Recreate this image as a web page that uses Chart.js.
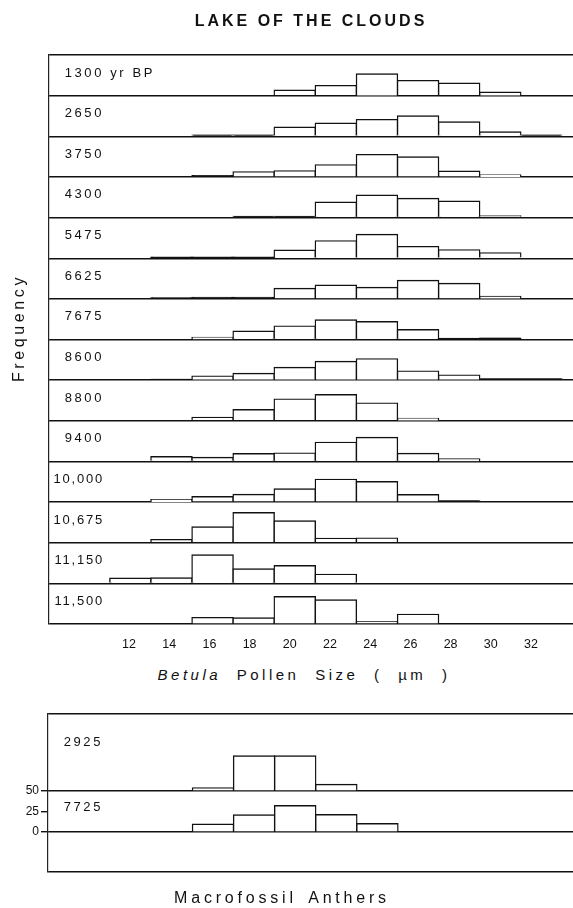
<!DOCTYPE html>
<html>
<head>
<meta charset="utf-8">
<script src="https://cdn.jsdelivr.net/npm/chart.js@4.4.0/dist/chart.umd.min.js"></script>
<style>
  body { margin: 0; background: #fff; width: 573px; height: 908px; position: relative; overflow: hidden;
         font-family: "Liberation Sans", Arial, sans-serif; color: #111; }
  canvas { position: absolute; left: 0; }
  #pollen { top: 0; }
  #anthers { top: 700px; }
  .txt { position: absolute; white-space: pre; line-height: 1; }
  #title { left: 311px; top: 13px; transform: translateX(-50%); font-weight: bold; font-size: 16px; letter-spacing: 3px; }
  #freq { left: 19px; top: 328px; transform: translate(-50%, -50%) rotate(-90deg); font-size: 16px; letter-spacing: 3.6px; }
  #xtitle { left: 304px; top: 667px; transform: translateX(-50%); font-size: 15px; letter-spacing: 3.5px; word-spacing: 8px; }
  #atitle { left: 282px; top: 890px; transform: translateX(-50%); font-size: 16px; letter-spacing: 3.8px; word-spacing: 4px; }
</style>
</head>
<body>
<canvas id="pollen" width="573" height="660"></canvas>
<canvas id="anthers" width="573" height="208"></canvas>
<div class="txt" id="title">LAKE OF THE CLOUDS</div>
<div class="txt" id="freq">Frequency</div>
<div class="txt" id="xtitle"><i>Betula</i> Pollen Size ( µm )</div>
<div class="txt" id="atitle">Macrofossil Anthers</div>
<script>
// pollen size classes (um) and tick labels
const bins = [12, 14, 16, 18, 20, 22, 24, 26, 28, 30, 32];
const tickValues = [12, 14, 16, 18, 20, 22, 24, 26, 28, 30, 32];

// sample ages, yr BP (top to bottom)
const ages = ['1300', '2650', '3750', '4300', '5475', '6625', '7675', '8600', '8800', '9400', '10,000', '10,675', '11,150', '11,500'];

// frequency per size class, one array per level
const r1300  = [0, 0, 0, 0, 6.6, 12.3, 26.7, 18.5, 15.2, 4.1, 0];
const r2650  = [0, 0, 1.4, 1.4, 11.1, 16, 20.5, 25, 17.6, 5.3, 1.4];
const r3750  = [0, 0, 1.6, 6.2, 7.4, 14.8, 27.5, 24.6, 7, 2.5, 0];
const r4300  = [0, 0, 0, 1.4, 1.4, 18.9, 27.5, 23.4, 20.1, 2, 0];
const r5475  = [0, 1.2, 1.2, 1.2, 9.8, 21.3, 29.1, 14.3, 10.2, 6.6, 0];
const r6625  = [0, 1.2, 1.6, 1.6, 12.7, 16.8, 13.9, 22.5, 18.9, 2.9, 0];
const r7675  = [0, 0, 2.5, 10.2, 16.4, 24, 21.8, 12, 1.4, 1.6, 0];
const r8600  = [0, 1, 4.9, 8.2, 15.6, 23, 26.2, 11.1, 6.2, 1.4, 1.4];
const r8800  = [0, 0, 4.1, 13.5, 26.7, 32, 21.7, 2.9, 0, 0, 0];
const r9400  = [0, 5.7, 4.9, 9.4, 10.2, 23.4, 29.5, 9.8, 2.9, 0, 0];
const r10000 = [0, 2.9, 6.6, 9.4, 16, 27.9, 25, 9, 1.4, 0, 0];
const r10675 = [0, 3.7, 19.3, 36.9, 26.7, 5.3, 5.7, 0, 0, 0, 0];
const r11150 = [6.2, 6.6, 34.8, 17.6, 21.7, 11.1, 0, 0, 0, 0, 0];
const r11500 = [0, 0, 7.8, 7.4, 33.6, 29.5, 2.9, 11.9, 0, 0, 0];
const rows = [r1300, r2650, r3750, r4300, r5475, r6625, r7675, r8600, r8800, r9400, r10000, r10675, r11150, r11500];

// macrofossil anthers
const anthBins = [16, 18, 20, 22, 24];
const anthAges = ['2925', '7725'];
const a2925 = [3.7, 42.7, 42.7, 8, 0];
const a7725 = [9.4, 20.7, 32, 21, 10];
const anthTicks = [0, 25, 50];

const FONT = '"Liberation Sans", Arial, sans-serif';
const INK = '#111';

Chart.defaults.font.family = FONT;
Chart.defaults.color = INK;

const rowLabels = {
  id: 'rowLabels',
  afterDraw(chart, args, opts) {
    const { ctx, chartArea } = chart;
    ctx.save();
    ctx.font = '13px ' + FONT;
    ctx.fillStyle = INK;
    ctx.textBaseline = 'alphabetic';
    opts.items.forEach(it => {
      const s = chart.scales[it.axis];
      const x = chartArea.left + 55;
      const y = s.top + it.dy;
      // long labels with a comma are set tighter, as in the original lettering
      ctx.letterSpacing = it.text.length > 4 ? '1.8px' : '2.6px';
      ctx.textAlign = 'right';
      ctx.fillText(it.text, x, y);
      if (it.suffix) {
        ctx.letterSpacing = '2.6px';
        ctx.textAlign = 'left';
        ctx.fillText(it.suffix, x, y);
      }
    });
    ctx.restore();
  }
};

const barStyle = {
  // very low classes print as a solid heavy rule in the original
  backgroundColor: c => (c.raw && c.raw.y < 2) ? INK : '#fff',
  borderColor: INK,
  borderWidth: 1.4,
  inflateAmount: 0.7,
  barPercentage: 1,
  categoryPercentage: 1,
  grouped: false
};

// ---- pollen panel: one stacked y axis per level ----
const nRows = rows.length;
const pollenScales = {
  x: {
    type: 'linear', display: false, offset: false, min: 8.04, max: 33.54,
    afterBuildTicks: s => { s.ticks = bins.map(v => ({ value: v })); }
  },
  xt: {
    type: 'linear', position: 'bottom', offset: false, min: 8.02, max: 34.09,
    afterBuildTicks: s => { s.ticks = tickValues.map(v => ({ value: v })); },
    afterFit: s => { s.height = 36; },
    grid: { display: false, drawTicks: false, offset: false },
    border: { display: false },
    ticks: { color: INK, font: { size: 12.5 }, padding: 13, maxRotation: 0, autoSkip: false }
  }
};
rows.forEach((r, i) => {
  pollenScales['y' + i] = {
    axis: 'y', type: 'linear', position: 'left', stack: 'levels', stackWeight: 1, weight: nRows - i,
    min: 0, max: 50, z: 1,
    afterBuildTicks: s => { s.ticks = i === 0 ? [{ value: 0 }, { value: 50 }] : [{ value: 0 }]; },
    afterFit: s => { s.width = 49; },
    ticks: { display: false },
    grid: { color: INK, lineWidth: 1.4, drawTicks: false },
    border: { display: true, color: '#222', width: 1.2 }
  };
});

new Chart(document.getElementById('pollen'), {
  type: 'bar',
  data: {
    datasets: rows.map((r, i) => ({
      ...barStyle,
      label: ages[i],
      xAxisID: 'x',
      yAxisID: 'y' + i,
      data: bins.map((b, j) => ({ x: b, y: r[j] }))
    }))
  },
  options: {
    responsive: false,
    animation: false,
    layout: { padding: { top: 55, right: 0, bottom: 0, left: 0 } },
    plugins: {
      legend: { display: false },
      tooltip: { enabled: false },
      rowLabels: {
        items: ages.map((a, i) => ({ axis: 'y' + i, text: a, suffix: i === 0 ? ' yr BP' : '', dy: 21.5 }))
      }
    },
    scales: pollenScales
  },
  plugins: [rowLabels]
});

// ---- anthers panel ----
new Chart(document.getElementById('anthers'), {
  type: 'bar',
  data: {
    datasets: [
      { ...barStyle, label: anthAges[0], xAxisID: 'x', yAxisID: 'ya', data: anthBins.map((b, j) => ({ x: b, y: a2925[j] })) },
      { ...barStyle, label: anthAges[1], xAxisID: 'x', yAxisID: 'yb', data: anthBins.map((b, j) => ({ x: b, y: a7725[j] })) }
    ]
  },
  options: {
    responsive: false,
    animation: false,
    layout: { padding: { top: 14, right: 0, bottom: 36, left: 0 } },
    plugins: {
      legend: { display: false },
      tooltip: { enabled: false },
      rowLabels: {
        items: [
          { axis: 'ya', text: anthAges[0], dy: 32 },
          { axis: 'yb', text: anthAges[1], dy: 20 }
        ]
      }
    },
    scales: {
      x: {
        type: 'linear', display: false, offset: false, min: 7.97, max: 33.52,
        afterBuildTicks: s => { s.ticks = anthBins.map(v => ({ value: v })); }
      },
      ya: {
        axis: 'y', type: 'linear', position: 'left', stack: 'anth', stackWeight: 77, weight: 2,
        min: 0, max: 94, z: 1,
        afterBuildTicks: s => { s.ticks = [{ value: 0 }, { value: 94 }]; },
        afterFit: s => { s.width = 48; },
        ticks: { display: false },
        grid: { color: INK, lineWidth: 1.4, drawTicks: false },
        border: { display: true, color: '#222', width: 1.2 }
      },
      yb: {
        axis: 'y', type: 'linear', position: 'left', stack: 'anth', stackWeight: 81, weight: 1,
        min: -49, max: 50, z: 1,
        afterBuildTicks: s => { s.ticks = [-49, ...anthTicks].map(v => ({ value: v })); },
        afterFit: s => { s.width = 48; },
        ticks: {
          color: INK, font: { size: 12 }, padding: 2, autoSkip: false,
          callback: v => anthTicks.includes(v) ? String(v) : ''
        },
        grid: {
          color: c => (c.tick && (c.tick.value === 0 || c.tick.value === -49)) ? INK : 'rgba(0,0,0,0)',
          tickColor: c => (c.tick && c.tick.value >= 0) ? INK : 'rgba(0,0,0,0)',
          lineWidth: 1.4, drawTicks: true, tickLength: 7
        },
        border: { display: true, color: '#222', width: 1.2 }
      }
    }
  },
  plugins: [rowLabels]
});
</script>
</body>
</html>
